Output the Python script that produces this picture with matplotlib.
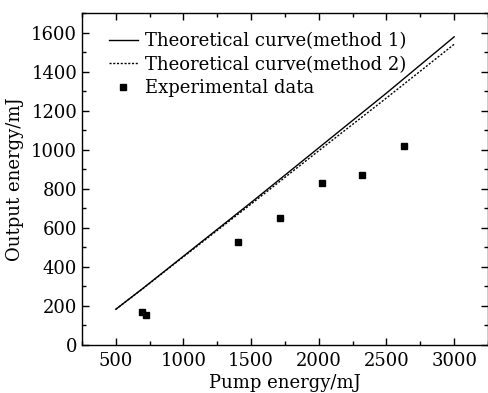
import matplotlib
matplotlib.use("Agg")
import matplotlib.pyplot as plt
from matplotlib.ticker import MultipleLocator

pump_theory = [500, 700, 1000, 1500, 2000, 2500, 3000]
out_method1 = [183, 290, 455, 730, 1010, 1290, 1578]
out_method2 = [183, 289, 452, 722, 995, 1265, 1540]

pump_exp = [690, 721, 1405, 1712, 2024, 2316, 2626]
out_exp = [170, 154, 529, 651, 830, 870, 1018]

plt.rcParams['font.family'] = ['DejaVu Serif']
plt.rcParams['mathtext.fontset'] = 'dejavuserif'

fig = plt.figure(figsize=(4.89, 3.93), dpi=100)
ax = fig.add_axes([82/489, 1-345/393, (488-82)/489, (345-13)/393])

ax.plot(pump_theory, out_method1, color='black', lw=1.0, linestyle='-', label='Theoretical curve(method 1)')
ax.plot(pump_theory, out_method2, color='black', lw=1.0, linestyle=(0, (1.5, 1.2)), label='Theoretical curve(method 2)')
ax.plot(pump_exp, out_exp, 's', color='black', markersize=5, linestyle='none', label='Experimental data')

ax.set_xlim(250, 3250)
ax.set_ylim(0, 1700)
ax.xaxis.set_major_locator(MultipleLocator(500))
ax.xaxis.set_minor_locator(MultipleLocator(250))
ax.yaxis.set_major_locator(MultipleLocator(200))
ax.yaxis.set_minor_locator(MultipleLocator(100))
ax.tick_params(which='both', direction='in', top=True, right=True, labelsize=13, width=1.0)
ax.tick_params(which='major', length=5)
ax.tick_params(which='minor', length=3)
ax.tick_params(axis='x', which='major', pad=5)
for s in ax.spines.values():
    s.set_linewidth(1.0)

ax.set_xlabel('Pump energy/mJ', fontsize=13, labelpad=3)
ax.set_ylabel('Output energy/mJ', fontsize=13, labelpad=5)

leg = ax.legend(loc='upper left', frameon=False, fontsize=13, handlelength=1.6,
                handletextpad=0.4, labelspacing=0.3, borderaxespad=0.3,
                bbox_to_anchor=(0.035, 0.98))

fig.savefig('out.png', dpi=100)
